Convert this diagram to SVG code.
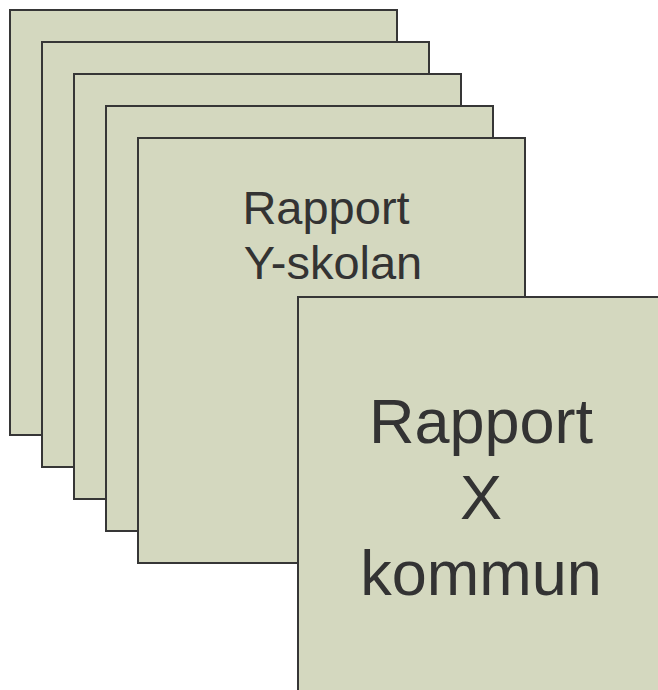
<svg xmlns="http://www.w3.org/2000/svg" width="658" height="690" viewBox="0 0 658 690">
  <style>
    .sheet { fill: #D4D8BF; stroke: #363636; stroke-width: 2; }
    .label { font-family: "Liberation Sans", Arial, sans-serif; fill: #333333; text-anchor: middle; }
    .small { font-size: 47px; }
    .large { font-size: 63px; }
  </style>
  <rect width="658" height="690" fill="#FFFFFF"/>

  <!-- Stack of school reports -->
  <g id="report-1"><rect class="sheet" x="10" y="10" width="387" height="425"/></g>
  <g id="report-2"><rect class="sheet" x="42" y="42" width="387" height="425"/></g>
  <g id="report-3"><rect class="sheet" x="74" y="74" width="387" height="425"/></g>
  <g id="report-4"><rect class="sheet" x="106" y="106" width="387" height="425"/></g>
  <g id="report-y-skolan">
    <rect class="sheet" x="138" y="138" width="387" height="425"/>
    <text class="label small" x="326" y="223.5">Rapport</text>
    <text class="label small" x="333" y="278.5">Y-skolan</text>
  </g>

  <!-- Municipal report, running off the edge -->
  <g id="report-x-kommun">
    <rect class="sheet" x="298" y="297" width="420" height="440"/>
    <text class="label large" x="481" y="443">Rapport</text>
    <text class="label large" x="481" y="519">X</text>
    <text class="label large" x="481" y="595">kommun</text>
  </g>

  <g id="connectors"/>
</svg>
